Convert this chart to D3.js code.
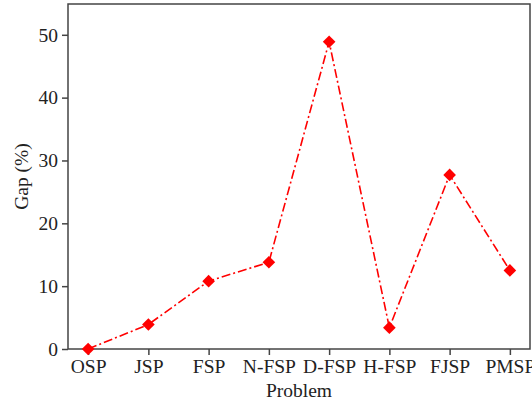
<!DOCTYPE html>
<html>
<head>
<meta charset="utf-8">
<script src="https://cdn.jsdelivr.net/npm/d3@7"></script>
<style>
    body { margin: 0; background: #fff; }
    svg text { font-family: 'Liberation Serif', 'Times New Roman', Times, serif; fill: #222; }
</style>
</head>
<body>
<svg id="chart" width="532" height="402"></svg>
<script>
// ===== DATA =====
const problems = ['OSP', 'JSP', 'FSP', 'N-FSP', 'D-FSP', 'H-FSP', 'FJSP', 'PMSP'];
const gaps     = [0, 3.9, 10.8, 13.8, 48.9, 3.4, 27.7, 12.5];
const yTicks   = [0, 10, 20, 30, 40, 50];

// ===== LAYOUT =====
const margin = { top: 4, right: 2, bottom: 53, left: 68 };
const W = 532, H = 402;
const w = W - margin.left - margin.right;
const h = H - margin.top - margin.bottom;
const FONT = "'Liberation Serif', 'Times New Roman', Times, serif";
const FS = 19.5;

const svg = d3.select('#chart');
const g = svg.append('g').attr('transform', `translate(${margin.left},${margin.top})`);

const x = d3.scalePoint().domain(problems).range([0, w]).padding(0.334);
const y = d3.scaleLinear().domain([0, 54.9]).range([h, 0]);

// frame
g.append('rect')
    .attr('width', w).attr('height', h)
    .attr('fill', 'none')
    .attr('stroke', '#444')
    .attr('stroke-width', 1.5);

// axes
const xAxis = g.append('g')
    .attr('transform', `translate(0,${h})`)
    .call(d3.axisBottom(x).tickSizeOuter(0).tickSize(6).tickPadding(4));

const yAxis = g.append('g')
    .call(d3.axisLeft(y).tickValues(yTicks).tickSizeOuter(0).tickSize(6).tickPadding(4));

[xAxis, yAxis].forEach(ax => {
    ax.attr('font-family', FONT).attr('font-size', FS);
    ax.select('.domain').remove();
    ax.selectAll('line').attr('stroke', '#444').attr('stroke-width', 1.5);
    ax.selectAll('text').attr('fill', '#222');
});

// axis labels
svg.append('text')
    .attr('x', margin.left + w / 2)
    .attr('y', 397)
    .attr('text-anchor', 'middle')
    .attr('font-family', FONT)
    .attr('font-size', FS)
    .text('Problem');

svg.append('text')
    .attr('transform', `translate(28,${margin.top + h / 2}) rotate(-90)`)
    .attr('text-anchor', 'middle')
    .attr('font-family', FONT)
    .attr('font-size', FS)
    .text('Gap (%)');

// line
const line = d3.line()
    .x((d, i) => x(problems[i]))
    .y(d => y(d));

g.append('path')
    .datum(gaps)
    .attr('d', line)
    .attr('fill', 'none')
    .attr('stroke', '#ff0000')
    .attr('stroke-width', 1.6)
    .attr('stroke-dasharray', '9,3,2,3');

// diamond markers
g.selectAll('.pt')
    .data(gaps)
    .enter().append('path')
    .attr('class', 'pt')
    .attr('d', d3.symbol().type(d3.symbolSquare).size(80))
    .attr('transform', (d, i) => `translate(${x(problems[i])},${y(d)}) rotate(45)`)
    .attr('fill', '#ff0000');
</script>
</body>
</html>
